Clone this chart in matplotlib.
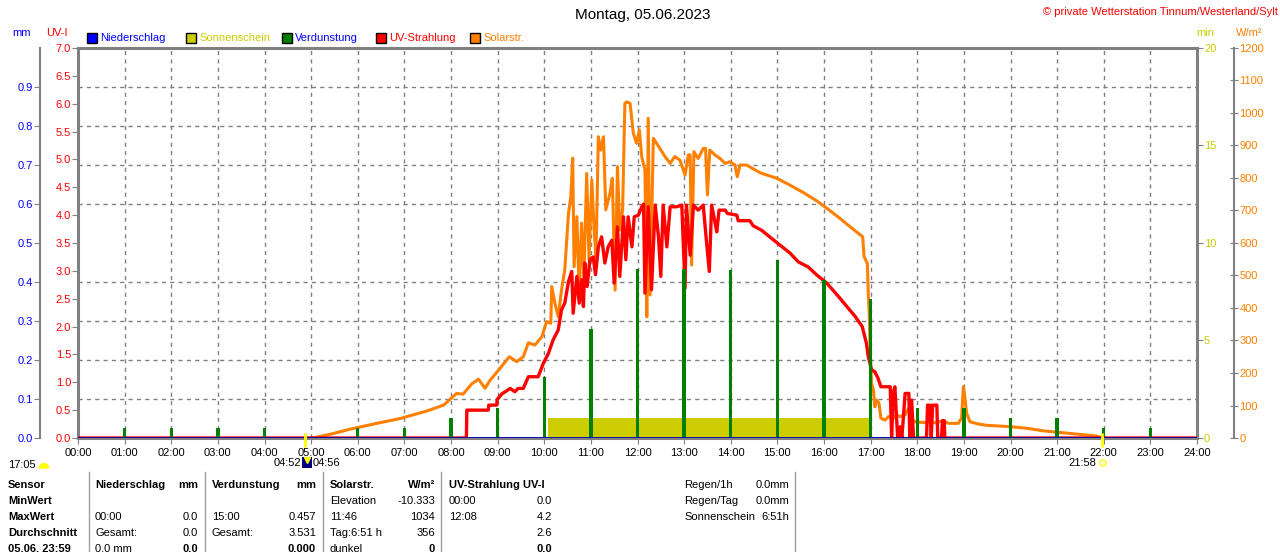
import numpy as np
import matplotlib
matplotlib.use("Agg")
import matplotlib.pyplot as plt
from matplotlib.patches import Rectangle, Wedge, Circle

plt.rcParams['font.family'] = ['Liberation Sans', 'DejaVu Sans']

# ---------------- data ----------------
hours = list(range(0, 25))
hour_labels = [f"{h:02d}:00" for h in hours]

# Niederschlag (mm) - nothing fell all day
rain_h = [0.0, 24.0]
rain_mm = [0.0, 0.0]

# Verdunstung (mm) per hour
evap_h = list(range(1, 24))
evap_mm = [0.026, 0.026, 0.026, 0.026, 0.0, 0.026, 0.026, 0.052, 0.078, 0.156,
           0.28, 0.433, 0.433, 0.43, 0.457, 0.405, 0.356, 0.078, 0.078, 0.052,
           0.052, 0.026, 0.026]

# Sonnenschein (min)
sun_h = [10.08, 17.0]
sun_min = [1.05, 1.05]

# Solarstrahlung (W/m2)
solar_h = [5.05, 5.48, 5.83, 6.41, 6.91, 7.48, 7.84, 8.12, 8.26, 8.44, 8.59, 8.73, 8.84,
           9.05, 9.25, 9.41, 9.55, 9.66, 9.80, 9.95, 10.05, 10.14, 10.16, 10.23, 10.30,
           10.37, 10.44, 10.52, 10.57, 10.61, 10.64, 10.70, 10.75, 10.80, 10.85, 10.91,
           10.96, 11.02, 11.07, 11.11, 11.16, 11.21, 11.27, 11.32, 11.41, 11.46, 11.52,
           11.57, 11.62, 11.68, 11.73, 11.77, 11.84, 11.91, 11.98, 12.04, 12.09, 12.16,
           12.20, 12.23, 12.27, 12.34, 12.48, 12.59, 12.70, 12.80, 12.91, 13.02, 13.09,
           13.13, 13.16, 13.21, 13.30, 13.41, 13.46, 13.50, 13.55, 13.66, 13.77, 13.88,
           13.98, 14.09, 14.14, 14.20, 14.34, 14.63, 14.99, 15.27, 15.56, 15.84, 16.06,
           16.34, 16.56, 16.83, 16.86, 16.93, 16.95, 16.97, 16.99, 17.02, 17.06, 17.09,
           17.13, 17.18, 17.22, 17.31, 17.38, 17.49, 17.56, 17.63, 17.74, 17.81, 17.87,
           17.95, 18.09, 18.38, 18.56, 18.67, 18.88, 18.95, 18.99, 19.02, 19.06, 19.13,
           19.31, 19.49, 19.99, 20.35, 20.70, 20.99, 21.28, 21.56, 21.85, 21.97]
solar_w = [0, 14, 27, 45, 60, 83, 101, 137, 135, 166, 181, 153, 178,
           214, 250, 235, 250, 293, 286, 312, 358, 353, 466, 414, 373,
           455, 517, 691, 742, 861, 527, 681, 435, 661, 496, 814,
           548, 794, 640, 558, 927, 886, 927, 702, 753, 799, 455,
           835, 640, 702, 1030, 1034, 1030, 938, 907, 948, 866, 825,
           373, 984, 440, 922, 891, 866, 845, 866, 855, 809, 871,
           871, 532, 881, 860, 891, 891, 748, 886, 871, 860, 845,
           850, 840, 804, 840, 840, 816, 799, 778, 755, 730, 707,
           676, 650, 619, 558, 537, 445, 384, 271, 168, 148, 96,
           117, 107, 61, 55, 66, 61, 71, 66, 71, 91, 61,
           50, 48, 47, 53, 45, 45, 61, 158, 127, 76, 50,
           43, 39, 35, 30, 22, 18, 14, 10, 6, 0]

# UV-Strahlung (UV-I)
uv_h = [0.0, 8.33, 8.34, 8.80, 8.81, 8.98, 8.99, 9.09, 9.27, 9.37, 9.44, 9.55, 9.66, 9.87,
        9.98, 10.09, 10.19, 10.30, 10.37, 10.44, 10.52, 10.59, 10.62, 10.70, 10.75, 10.80,
        10.84, 10.87, 10.92, 10.98, 11.05, 11.10, 11.16, 11.23, 11.30, 11.37, 11.45, 11.50,
        11.57, 11.62, 11.70, 11.75, 11.80, 11.88, 11.93, 12.02, 12.09, 12.13, 12.16, 12.23,
        12.30, 12.38, 12.45, 12.50, 12.55, 12.63, 12.70, 12.84, 12.95, 13.02, 13.05, 13.13,
        13.20, 13.30, 13.41, 13.48, 13.54, 13.59, 13.66, 13.70, 13.75, 13.88, 13.93, 14.13,
        14.16, 14.41, 14.48, 14.66, 14.88, 15.06, 15.27, 15.45, 15.66, 15.84, 16.06, 16.31,
        16.49, 16.67, 16.82, 16.91, 16.95, 17.02, 17.09, 17.16, 17.22, 17.42, 17.45, 17.49,
        17.52, 17.58, 17.63, 17.67, 17.74, 17.82, 17.84, 17.88, 17.92, 18.20, 18.22, 18.27,
        18.30, 18.33, 18.42, 18.44, 18.52, 18.54, 18.58, 18.59, 24.0]
uv_i = [0.0, 0.0, 0.50, 0.50, 0.59, 0.59, 0.69, 0.79, 0.89, 0.83, 0.89, 0.89, 1.10, 1.10,
        1.34, 1.52, 1.76, 1.94, 2.30, 2.42, 2.81, 2.99, 2.24, 2.90, 2.42, 2.84,
        2.36, 3.14, 2.72, 3.20, 3.25, 2.93, 3.43, 3.61, 3.14, 3.43, 3.55, 2.78,
        3.79, 2.90, 3.97, 3.20, 3.97, 3.43, 3.97, 4.00, 4.15, 4.20, 2.60, 4.15,
        2.66, 4.18, 3.61, 2.90, 4.18, 3.43, 4.15, 4.15, 4.18, 2.69, 4.18, 3.28,
        4.18, 4.09, 4.18, 3.52, 2.99, 4.18, 3.88, 3.70, 4.09, 4.09, 4.03, 4.00,
        3.90, 3.90, 3.81, 3.73, 3.58, 3.46, 3.32, 3.16, 3.07, 2.93, 2.78, 2.54,
        2.36, 2.18, 2.00, 1.70, 1.46, 1.22, 1.19, 1.07, 0.92, 0.92, 0.02, 0.83,
        0.92, 0.0, 0.20, 0.0, 0.80, 0.80, 0.0, 0.68, 0.0, 0.0, 0.59, 0.59,
        0.0, 0.59, 0.59, 0.0, 0.0, 0.31, 0.31, 0.0, 0.0]

sunrise_h = 4 + 52 / 60
sunset_h = 21 + 58 / 60

legend_names = ["Niederschlag", "Sonnenschein", "Verdunstung", "UV-Strahlung", "Solarstr."]
legend_boxes = ["#0000ff", "#cccc00", "#008000", "#ff0000", "#ff8000"]
legend_texts = ["#0000ff", "#cccc00", "#0000ff", "#ff0000", "#ff8000"]

row_labels = ["Sensor", "MinWert", "MaxWert", "Durchschnitt", "05.06. 23:59"]
col_rain = [("Niederschlag", "mm"), ("", ""), ("00:00", "0.0"), ("Gesamt:", "0.0"), ("0.0 mm", "0.0")]
col_evap = [("Verdunstung", "mm"), ("", ""), ("15:00", "0.457"), ("Gesamt:", "3.531"), ("", "0.000")]
col_solar = [("Solarstr.", "W/m²"), ("Elevation", "-10.333"), ("11:46", "1034"), ("Tag:6:51 h", "356"), ("dunkel", "0")]
col_uv = [("UV-Strahlung UV-I", ""), ("00:00", "0.0"), ("12:08", "4.2"), ("", "2.6"), ("", "0.0")]
info_labels = ["Regen/1h", "Regen/Tag", "Sonnenschein"]
info_values = ["0.0mm", "0.0mm", "6:51h"]

# ---------------- figure ----------------
W, H = 1280, 552
fig = plt.figure(figsize=(W / 100, H / 100), dpi=100, facecolor="white")
L, R, T, B = 78, 1197, 48, 438
ax = fig.add_axes([L / W, 1 - B / H, (R - L) / W, (B - T) / H])

FS = 8
GRAY = "#808080"
YEL = "#cccc00"

ax.set_xlim(0, 24)
ax.set_ylim(0, 7)
ax.set_xticks(hours)
ax.set_xticklabels(hour_labels, fontsize=FS)
ax.tick_params(axis="x", length=4, color=GRAY, pad=3)
uv_ticks = np.arange(0, 7.01, 0.5)
ax.set_yticks(uv_ticks)
ax.set_yticklabels([f"{v:.1f}" for v in uv_ticks], fontsize=FS)
ax.tick_params(axis="y", length=4, color=GRAY, labelcolor="red", pad=1)
ax.set_yticks(np.arange(0.7, 6.9, 0.7), minor=True)
ax.tick_params(axis="y", which="minor", length=0)
ax.grid(axis="x", which="major", ls=(0, (3, 3)), color=GRAY, lw=1)
ax.grid(axis="y", which="minor", ls=(0, (3, 3)), color=GRAY, lw=1)
for s in ax.spines.values():
    s.set_color(GRAY)
    s.set_linewidth(2.2)
ax.set_zorder(0)


def twin(z):
    t = ax.twinx()
    t.set_zorder(z)
    t.patch.set_visible(False)
    for s in t.spines.values():
        s.set_visible(False)
    return t


# Sonnenschein
ax_min = twin(1)
ax_min.set_ylim(0, 20)
ax_min.fill_between(sun_h, 0, sun_min, color=YEL, lw=0)
ax_min.set_yticks([0, 5, 10, 15, 20])
ax_min.tick_params(axis="y", length=4, color=GRAY, labelcolor=YEL, labelsize=FS, pad=1)

# Solarstrahlung
ax_w = twin(2)
ax_w.set_ylim(0, 1200)
ax_w.plot(solar_h, solar_w, color="#ff8000", lw=2.2)
ax_w.spines["right"].set_visible(True)
ax_w.spines["right"].set_position(("axes", 1.033))
ax_w.spines["right"].set_color(GRAY)
ax_w.spines["right"].set_linewidth(1.5)
ax_w.set_yticks(range(0, 1201, 100))
ax_w.tick_params(axis="y", direction="inout", length=6, color=GRAY,
                 labelcolor="#ff8000", labelsize=FS, pad=1)

# UV
ax_uv = twin(3)
ax_uv.set_ylim(0, 7)
ax_uv.plot(uv_h, uv_i, color="#ff0000", lw=2.4)
ax_uv.set_yticks([])

# Verdunstung + Niederschlag
ax_mm = twin(4)
ax_mm.set_ylim(0, 1)
ax_mm.bar(evap_h, evap_mm, width=0.075, color="#008000", lw=0)
ax_mm.plot(rain_h, rain_mm, color="#0000b0", lw=2)
ax_mm.vlines([sunrise_h, sunset_h], -0.023, 0.013, color="#ffff00", lw=2, clip_on=False)
ax_mm.yaxis.tick_left()
ax_mm.spines["left"].set_visible(True)
ax_mm.spines["left"].set_position(("axes", -0.034))
ax_mm.spines["left"].set_color(GRAY)
ax_mm.spines["left"].set_linewidth(1.5)
mm_ticks = np.arange(0, 0.91, 0.1)
ax_mm.set_yticks(mm_ticks)
ax_mm.set_yticklabels([f"{v:.1f}" for v in mm_ticks], fontsize=FS)
ax_mm.tick_params(axis="y", length=4, color=GRAY, labelcolor="#0000ff", pad=1)

# ---------------- texts, legend, table ----------------
ov = fig.add_axes([0, 0, 1, 1])
ov.set_xlim(0, W)
ov.set_ylim(H, 0)
ov.axis("off")
ov.patch.set_visible(False)
ov.set_zorder(10)

ov.text(643, 15, "Montag, 05.06.2023", fontsize=11, ha="center", va="center")
ov.text(1278, 12, "© private Wetterstation Tinnum/Westerland/Sylt", fontsize=FS,
        color="red", ha="right", va="center")
ov.text(22, 33, "mm", fontsize=FS, color="#0000ff", ha="center", va="center")
ov.text(57, 33, "UV-I", fontsize=FS, color="red", ha="center", va="center")
ov.text(1205, 33, "min", fontsize=FS, color=YEL, ha="center", va="center")
ov.text(1249, 33, "W/m²", fontsize=FS, color="#ff8000", ha="center", va="center")

leg_x = [87, 186, 282, 376, 470]
for x, name, bc, tc in zip(leg_x, legend_names, legend_boxes, legend_texts):
    ov.add_patch(Rectangle((x, 33), 10, 10, facecolor=bc, edgecolor="black", lw=1))
    ov.text(x + 13, 38, name, fontsize=FS, color=tc, ha="left", va="center")

# sunrise / sunset notes
ov.text(8, 465, "17:05", fontsize=FS, ha="left", va="center")
ov.add_patch(Wedge((44, 468), 4.5, 180, 360, color="#ffff00"))
ov.text(301, 463, "04:52", fontsize=FS, ha="right", va="center")
ov.add_patch(Rectangle((302, 457), 10, 11, facecolor="#000080", lw=0))
ov.plot([307], [460], marker="v", ms=4, color="#ffff00")
ov.text(313, 463, "04:56", fontsize=FS, ha="left", va="center")
ov.text(1096, 463, "21:58", fontsize=FS, ha="right", va="center")
ov.add_patch(Circle((1103, 463), 3, fill=False, edgecolor="#ffff00", lw=1))

# table
for x in [89, 205, 323, 441, 795]:
    ov.plot([x, x], [472, H], color="#a0a0a0", lw=1)
row_y = [485, 501, 517, 533, 549]
for i, (y, lab) in enumerate(zip(row_y, row_labels)):
    ov.text(8, y, lab, fontsize=FS, weight="bold", ha="left", va="center")
    for col, (xl, xr) in zip([col_rain, col_evap, col_solar, col_uv],
                             [(95, 198), (212, 316), (330, 435), (449, 552)]):
        left, right = col[i]
        head = i == 0
        ov.text(xl, y, left, fontsize=FS, weight="bold" if head else "normal",
                ha="left", va="center")
        ov.text(xr, y, right, fontsize=FS, weight="bold" if (head or i == 4) else "normal",
                ha="right", va="center")
for y, lab, val in zip(row_y, info_labels, info_values):
    ov.text(684, y, lab, fontsize=FS, ha="left", va="center")
    ov.text(789, y, val, fontsize=FS, ha="right", va="center")

fig.savefig("out.png", dpi=100, facecolor="white")
